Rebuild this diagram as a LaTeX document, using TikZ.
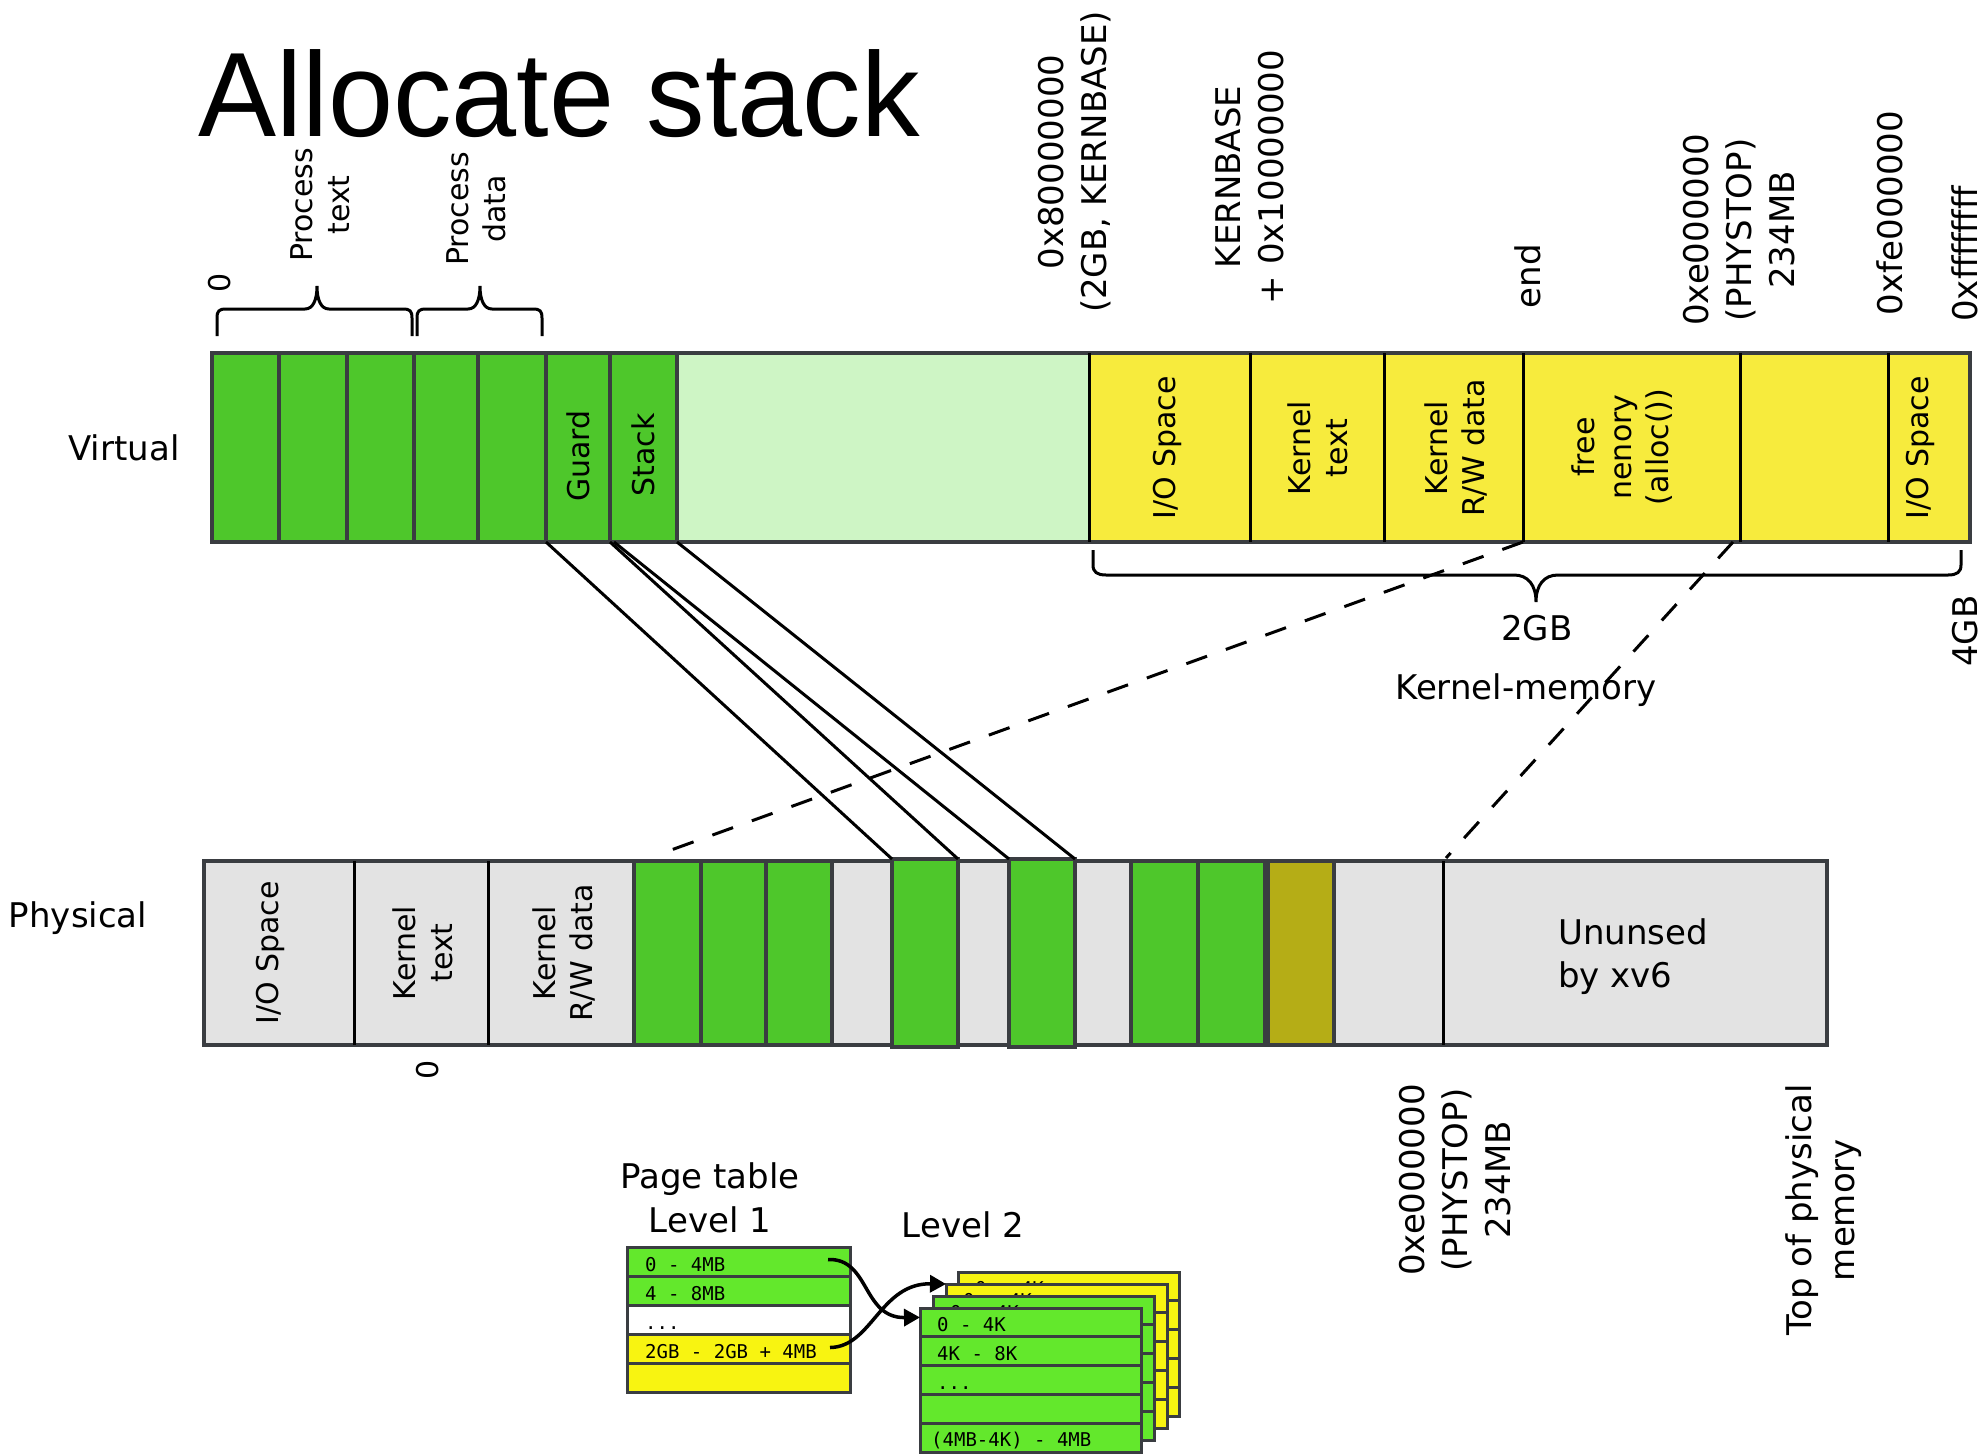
\documentclass[tikz,border=0pt]{standalone}
\usepackage{fontspec}
\setmainfont{DejaVu Sans}
\newfontfamily\monofont{DejaVu Sans Mono}
\newfontfamily\titlefont[FakeStretch=0.975]{Liberation Sans}
\usetikzlibrary{arrows.meta}
\definecolor{vgreen}{HTML}{4EC72B}
\definecolor{lgreen}{HTML}{CEF5C5}
\definecolor{vyellow}{HTML}{F7EB3D}
\definecolor{pgray}{HTML}{E3E3E3}
\definecolor{olivec}{HTML}{B5AD16}
\definecolor{bord}{HTML}{3A3D41}
\definecolor{tgreen}{HTML}{63E82C}
\definecolor{tyellow}{HTML}{F8F411}
\tikzset{
  cellv/.style={inner sep=0pt, outer sep=0pt, anchor=north west, minimum height=189pt},
  cellp/.style={inner sep=0pt, outer sep=0pt, anchor=north west, minimum height=184pt},
  vg/.style={cellv, fill=vgreen, draw=bord, line width=3.5pt},
  vy/.style={cellv, fill=vyellow},
  pg/.style={cellp, fill=vgreen, draw=bord, line width=3.5pt},
  pstk/.style={inner sep=0pt, outer sep=0pt, anchor=north west, minimum height=188pt, fill=vgreen, draw=bord, line width=3.5pt},
  outl/.style={draw=bord, line width=3.5pt},
  divider/.style={draw=black, line width=3pt},
  rlab/.style={rotate=90, align=center, inner sep=0pt, font={\fontsize{30}{37}\selectfont}},
  alab/.style={rotate=90, align=center, inner sep=0pt, font={\fontsize{34}{43}\selectfont}},
  hlab/.style={inner sep=0pt, font={\fontsize{34}{43}\selectfont}},
  mono/.style={inner sep=0pt, anchor=base west, font={\monofont\fontsize{19}{22}\selectfont}},
  trow/.style={inner sep=0pt, outer sep=0pt, anchor=north west, minimum width=223pt, minimum height=29pt, draw=bord, line width=3pt},
  lrow/.style={inner sep=0pt, outer sep=0pt, anchor=north west, minimum width=221pt, minimum height=28.8pt, draw=bord, line width=3pt},
  conn/.style={draw=black, line width=3pt},
  dconn/.style={draw=black, line width=3pt, dash pattern=on 22pt off 20pt},
  bracep/.style={draw=black, line width=3pt},
  parrow/.style={draw=black, line width=3.5pt, -{Triangle[length=16pt,width=17pt]}}
}
\begin{document}
\begin{tikzpicture}[x=1pt,y=-1pt]
\useasboundingbox (0,0) rectangle (1984,1454);

% title
\node[anchor=base west, inner sep=0pt, font={\titlefont\fontsize{120}{124}\selectfont}] (title) at (198,136) {Allocate stack};

% ---------- virtual bar ----------
\node[cellv, fill=lgreen, minimum width=412pt] (vfree) at (677,353) {};
\node[vy, minimum width=161pt] (vio) at (1089,353) {};
\node[vy, minimum width=134pt] (vktext) at (1250,353) {};
\node[vy, minimum width=139pt] (vkdata) at (1384,353) {};
\node[vy, minimum width=217pt] (vfreemem) at (1523,353) {};
\node[vy, minimum width=148pt] (vempty) at (1740,353) {};
\node[vy, minimum width=82pt] (vio2) at (1888,353) {};
\node[cellv, outl, minimum width=1758pt] (vbar) at (212,353) {};
\foreach \c in {vio,vktext,vkdata,vfreemem,vempty,vio2}
  \draw[divider] (\c.north west) -- (\c.south west);
\node[vg, minimum width=67pt] (v1) at (212,353) {};
\node[vg, minimum width=68pt] (v2) at (279,353) {};
\node[vg, minimum width=67pt] (v3) at (347,353) {};
\node[vg, minimum width=64pt] (v4) at (414,353) {};
\node[vg, minimum width=68pt] (v5) at (478,353) {};
\node[vg, minimum width=64pt] (guard) at (546,353) {};
\node[vg, minimum width=67pt] (stack) at (610,353) {};

\node[rlab] (guardL) at (578,456) {Guard};
\node[rlab] (stackL) at (643,455) {Stack};
\node[rlab] (vioL) at (1167,448) {I/O Space};
\node[rlab] (vktextL) at (1318,448) {Kernel\\text};
\node[rlab] (vkdataL) at (1456,448) {Kernel\\R/W data};
\node[rlab] (vfreememL) at (1622,447) {free\\nenory\\(alloc())};
\node[rlab] (vio2L) at (1920,448) {I/O Space};

\node[hlab, anchor=base] (virtL) at (124,460) {Virtual};

% top labels
\node[rlab] (zeroTop) at (220,283) {0};
\node[rlab] (ptextL) at (320,205) {Process\\text};
\node[rlab] (pdataL) at (476,209) {Process\\data};
\node[alab] (kbL) at (1075,162) {0x80000000\\(2GB, KERNBASE)};
\node[alab] (kb2L) at (1250,177) {KERNBASE\\+ 0x10000000};
\node[alab] (endL) at (1528,276) {end};
\node[alab] (phystopL) at (1739,230) {0xe000000\\(PHYSTOP)\\234MB};
\node[alab] (feL) at (1890,213) {0xfe000000};
\node[alab] (ffL) at (1965,254) {0xffffffff};
\node[alab] (fourL) at (1965,631) {4GB};

% braces
\draw[bracep] (217,336) -- (217,318) .. controls (217,311) and (219,309) .. (226,309) -- (305,309) .. controls (313,309) and (317,300) .. (317,286) .. controls (317,300) and (321,309) .. (329,309) -- (403,309) .. controls (410,309) and (412,311) .. (412,318) -- (412,336);
\draw[bracep] (417,336) -- (417,318) .. controls (417,311) and (419,309) .. (426,309) -- (468,309) .. controls (476,309) and (480,300) .. (480,286) .. controls (480,300) and (484,309) .. (492,309) -- (533,309) .. controls (540,309) and (542,311) .. (542,318) -- (542,336);
\draw[bracep] (1093,550) -- (1093,565) .. controls (1093,572) and (1097,575) .. (1106,575) -- (1514,575) .. controls (1528,575) and (1536,585) .. (1536,602) .. controls (1536,585) and (1544,575) .. (1558,575) -- (1948,575) .. controls (1957,575) and (1961,572) .. (1961,565) -- (1961,550);

\node[hlab, anchor=base] (gbL) at (1537,640) {2GB};
\node[hlab, anchor=base] (kmemL) at (1526,699) {Kernel-memory};

% ---------- physical bar ----------
\node[cellp, fill=pgray, outl, minimum width=1623pt] (pbar) at (204,861) {};
\node[cellp, minimum width=150pt] (pio) at (204,861) {};
\node[cellp, minimum width=134pt] (pktext) at (354,861) {};
\node[cellp, minimum width=146pt] (pkdata) at (488,861) {};
\node[cellp, minimum width=384pt] (punused) at (1443,861) {};
\draw[divider] (pktext.north west) -- (pktext.south west);
\draw[divider] (pkdata.north west) -- (pkdata.south west);
\draw[divider] (punused.north west) -- (punused.south west);
\node[pg, minimum width=67pt] (pg1) at (634,861) {};
\node[pg, minimum width=65pt] (pg2) at (701,861) {};
\node[pg, minimum width=66pt] (pg3) at (766,861) {};
\node[pstk, minimum width=66pt] (pstack1) at (892,859) {};
\node[pstk, minimum width=66pt] (pstack2) at (1009,859) {};
\node[pg, minimum width=67pt] (pg4) at (1131,861) {};
\node[pg, minimum width=67pt] (pg5) at (1198,861) {};
\node[cellp, fill=olivec, draw=bord, line width=3.5pt, minimum width=66pt] (polive) at (1268,861) {};

\node[rlab] (pioL) at (270,953) {I/O Space};
\node[rlab] (pktextL) at (423,953) {Kernel\\text};
\node[rlab] (pkdataL) at (564,953) {Kernel\\R/W data};
\node[hlab, anchor=base west] (unusedL1) at (1558,944) {Ununsed};
\node[hlab, anchor=base west] (unusedL2) at (1558,987) {by xv6};
\node[hlab, anchor=base] (physL) at (78,927) {Physical};

\node[rlab] (zeroBot) at (428,1070) {0};
\node[alab] (phystopB) at (1455,1180) {0xe000000\\(PHYSTOP)\\234MB};
\node[alab] (topL) at (1824,1210) {Top of physical\\memory};

% ---------- mappings ----------
\draw[conn] (guard.south west) -- (pstack1.north west);
\draw[conn] (stack.south west) -- (pstack1.north east);
\draw[conn] ([xshift=4pt]stack.south west) -- (pstack2.north west);
\draw[conn] (stack.south east) -- (pstack2.north east);
\coordinate (d1end) at (660,854);
\draw[dconn] (vfreemem.south west) -- (d1end);
\draw[dconn] ([xshift=-7pt]vfreemem.south east) -- ([xshift=3pt,yshift=3pt]punused.north west);

% ---------- page table ----------
\node[hlab, anchor=base] (ptL1) at (710,1188) {Page table};
\node[hlab, anchor=base] (ptL2) at (710,1232) {Level 1};
\node[hlab, anchor=base] (lv2L) at (963,1237) {Level 2};

\node[trow, fill=tgreen] (t1r1) at (627,1247) {};
\node[trow, fill=tgreen] (t1r2) at (627,1276) {};
\node[trow, fill=white] (t1r3) at (627,1305) {};
\node[trow, fill=tyellow] (t1r4) at (627,1334) {};
\node[trow, fill=tyellow] (t1r5) at (627,1363) {};
\node[mono] (t1x1) at (645,1271.5) {0 - 4MB};
\node[mono] (t1x2) at (645,1300.5) {4 - 8MB};
\node[mono] (t1x3) at (645,1329.5) {...};
\node[mono] (t1x4) at (645,1358.5) {2GB - 2GB + 4MB};

\foreach \k/\ox/\oy/\col in {4/958/1272/tyellow, 3/946/1284/tyellow, 2/933/1296/tgreen, 1/920/1308/tgreen} {
  \node[lrow, fill=\col] (L2t\k r1) at (\ox,\oy) {};
  \node[lrow, fill=\col] (L2t\k r2) at (\ox,\oy+28.8) {};
  \node[lrow, fill=\col] (L2t\k r3) at (\ox,\oy+57.6) {};
  \node[lrow, fill=\col] (L2t\k r4) at (\ox,\oy+86.4) {};
  \node[lrow, fill=\col] (L2t\k r5) at (\ox,\oy+115.2) {};
  \node[mono] (L2t\k x1) at (\ox+17,\oy+23.5) {0 - 4K};
  \node[mono] (L2t\k x2) at (\ox+17,\oy+52.3) {4K - 8K};
  \node[mono] (L2t\k x3) at (\ox+17,\oy+81.1) {...};
  \node[mono] (L2t\k x5) at (\ox+11,\oy+138.7) {(4MB-4K) - 4MB};
}

\coordinate (a1s) at ([xshift=-22pt,yshift=2pt]t1r1.east);
\coordinate (a2s) at ([xshift=-20pt,yshift=1pt]t1r4.east);
\draw[parrow] (a1s) .. controls (870,1258) and (862,1318) .. ([yshift=5pt]L2t1r1.west);
\draw[parrow] (a2s) .. controls (872,1347) and (880,1283) .. (L2t3r1.north west);
\end{tikzpicture}
\end{document}
